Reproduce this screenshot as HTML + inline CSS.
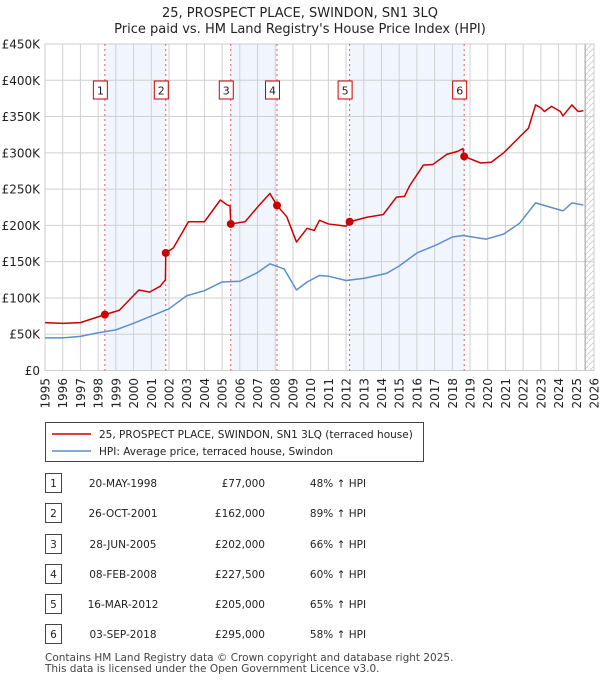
<!DOCTYPE html>
<html><head><meta charset="utf-8">
<style>
body{margin:0;background:#fff;font-family:"Liberation Sans","DejaVu Sans",sans-serif;}
#wrap{position:relative;width:600px;height:680px;overflow:hidden;}
svg text{font-family:"DejaVu Sans","Liberation Sans",sans-serif;}
</style></head>
<body>
<div id="wrap">
<svg id="chart" width="600" height="680"></svg>
</div>
<script>
const years=[1995,1996,1997,1998,1999,2000,2001,2002,2003,2004,2005,2006,2007,2008,2009,2010,2011,2012,2013,2014,2015,2016,2017,2018,2019,2020,2021,2022,2023,2024,2025,2026];
const yTicks=[0,50000,100000,150000,200000,250000,300000,350000,400000,450000];
const yTickLabels=["£0","£50K","£100K","£150K","£200K","£250K","£300K","£350K","£400K","£450K"];
const hpiT=[1995,1996,1997,1998,1999,2000,2001,2002,2003,2004,2005,2006,2007,2007.7,2008.5,2009.2,2009.8,2010.5,2011,2012,2013,2014.3,2015,2016,2017.1,2018,2018.6,2019.9,2020.9,2021.8,2022.7,2023.4,2024.25,2024.75,2025.4];
const hpiV=[45000,45000,47000,52000,56000,65000,75000,85000,103000,110000,122000,123000,135000,147000,140000,111000,122000,131000,130000,124000,127000,134000,144000,162000,173000,184000,186000,181000,188000,203000,231000,226000,220000,231000,228000];
const redT=[1995,1996,1997,1998.38,1999.2,2000.3,2000.9,2001.5,2001.8,2001.82,2002.25,2003.1,2004,2004.9,2005.3,2005.45,2005.49,2006.3,2007.1,2007.7,2008.1,2008.65,2009.2,2009.8,2010.2,2010.5,2011,2012,2012.2,2013.15,2014.1,2014.85,2015.3,2015.6,2016.36,2016.9,2017.7,2018.3,2018.6,2018.67,2019.6,2020.2,2020.9,2021.8,2022.3,2022.7,2023,2023.2,2023.6,2024.1,2024.25,2024.75,2025.1,2025.4];
const redV=[66000,65000,66000,77000,83000,111000,108000,116000,125000,162000,169000,205000,205000,235000,228000,227000,202000,205000,228000,244000,227500,212000,177000,196000,193000,207000,202000,199000,205000,211000,215000,239000,240000,255000,283000,284000,298000,302000,306000,295000,286000,287000,300000,322000,334000,366000,362000,357000,364000,357000,351000,366000,357000,358000];
const saleT=[1998.38,2001.82,2005.49,2008.1,2012.2,2018.67];
const saleV=[77000,162000,202000,227500,205000,295000];
const saleLabels=["1","2","3","4","5","6"];
const saleDates=["20-MAY-1998","26-OCT-2001","28-JUN-2005","08-FEB-2008","16-MAR-2012","03-SEP-2018"];
const salePrices=["£77,000","£162,000","£202,000","£227,500","£205,000","£295,000"];
const saleHpi=["48% ↑ HPI","89% ↑ HPI","66% ↑ HPI","60% ↑ HPI","65% ↑ HPI","58% ↑ HPI"];

const NS="http://www.w3.org/2000/svg";
const svg=document.getElementById('chart');
const L=45,R=594,T=44,B=370.5;
const X=t=>L+(t-1995)*(R-L)/31;
const Y=v=>B-v*(B-T)/450000;
function el(tag,attrs,parent){const e=document.createElementNS(NS,tag);for(const k in attrs)e.setAttribute(k,attrs[k]);(parent||svg).appendChild(e);return e;}
function txt(s,attrs,parent){const e=el('text',attrs,parent);e.textContent=s;return e;}

let t1=txt("25, PROSPECT PLACE, SWINDON, SN1 3LQ",{x:300,y:17,'text-anchor':'middle','font-size':13,fill:'#222'});


let t2=txt("Price paid vs. HM Land Registry's House Price Index (HPI)",{x:300,y:33,'text-anchor':'middle','font-size':13,fill:'#222'});



for(let i=0;i<saleT.length;i+=2){
  const x1=X(saleT[i]),x2=X(saleT[i+1]);
  const b=el('rect',{x:x1,y:T,width:x2-x1,height:B-T,fill:'#eef3fc',opacity:0.8});
  
  
}
const defs=el('defs',{});
const pat=el('pattern',{id:'hatch',width:6,height:6,patternUnits:'userSpaceOnUse'},defs);
el('path',{d:'M0,6 L6,0',stroke:'#ccc','stroke-width':0.8},pat);
const hx=X(2025.5);
const hatch=el('rect',{x:hx,y:T,width:R-hx,height:B-T,fill:'url(#hatch)'});



years.forEach(y=>{el('line',{x1:X(y),x2:X(y),y1:T,y2:B,stroke:'#d0d0d0','stroke-width':1});
  const lx=X(y)+4.5, ly=378;
  const lb=txt(String(y),{x:lx,y:ly,'text-anchor':'end','font-size':12,fill:'#222',transform:'rotate(-90 '+lx+' '+ly+')'});
  
  
});
yTicks.forEach((v,i)=>{el('line',{x1:L,x2:R,y1:Y(v),y2:Y(v),stroke:'#d0d0d0','stroke-width':1});
  const lb=txt(yTickLabels[i],{x:40,y:Y(v)+4.5,'text-anchor':'end','font-size':12,fill:'#222'});
  
  
});
el('line',{x1:hx,x2:hx,y1:T,y2:B,stroke:'#999','stroke-width':1});
el('rect',{x:L,y:T,width:R-L,height:B-T,fill:'none',stroke:'#ccc'});

saleT.forEach((t,i)=>{
  const ln=el('line',{x1:X(t),x2:X(t),y1:T,y2:B,stroke:'#e06060','stroke-width':1,'stroke-dasharray':'2,3'});
  
  
  const g=el('g',{});
  
  
  el('rect',{x:X(t)-11.5,y:81,width:14,height:18,fill:'#fff',stroke:'#c00','stroke-width':1},g);
  txt(saleLabels[i],{x:X(t)-4.5,y:94.5,'text-anchor':'middle','font-size':11,fill:'#222'},g);
});

function poly(ts,vs,color,name){
  const p=el('polyline',{points:ts.map((t,i)=>X(t)+','+Y(vs[i])).join(' '),fill:'none',stroke:color,'stroke-width':1.5,'stroke-linejoin':'round'});
  
  
}
poly(hpiT,hpiV,'#5b8fd0','hpi-line');
poly(redT,redV,'#cc0000','price-paid-line');
saleT.forEach((t,i)=>{
  const c=el('circle',{cx:X(t),cy:Y(saleV[i]),r:4,fill:'#cc0000'});
  
  
});

const lg=el('g',{});


el('rect',{x:45.5,y:422.5,width:378,height:39,fill:'#fff',stroke:'#444'},lg);
el('line',{x1:52,x2:91,y1:434,y2:434,stroke:'#cc0000','stroke-width':1.5},lg);
txt("25, PROSPECT PLACE, SWINDON, SN1 3LQ (terraced house)",{x:99,y:438,'font-size':10.5,fill:'#222'},lg);
el('line',{x1:52,x2:91,y1:451,y2:451,stroke:'#5b8fd0','stroke-width':1.5},lg);
txt("HPI: Average price, terraced house, Swindon",{x:99,y:455,'font-size':10.5,fill:'#222'},lg);

const rowY=[483,513,544,574,604,634];
rowY.forEach((y,i)=>{
  const g=el('g',{});
  
  
  el('rect',{x:45.5,y:y-9.5,width:16,height:19,fill:'#fff',stroke:'#444'},g);
  txt(saleLabels[i],{x:53.5,y:y+4,'text-anchor':'middle','font-size':10.5,fill:'#222'},g);
  txt(saleDates[i],{x:123,y:y+4,'text-anchor':'middle','font-size':10.5,fill:'#222'},g);
  txt(salePrices[i],{x:265,y:y+4,'text-anchor':'end','font-size':10.5,fill:'#222'},g);
  txt(saleHpi[i],{x:338,y:y+4,'text-anchor':'middle','font-size':10.5,fill:'#222'},g);
});
const f1=txt("Contains HM Land Registry data © Crown copyright and database right 2025.",{x:45,y:661,'font-size':10.5,fill:'#444'});


const f2=txt("This data is licensed under the Open Government Licence v3.0.",{x:45,y:672,'font-size':10.5,fill:'#444'});


</script>
</body></html>
